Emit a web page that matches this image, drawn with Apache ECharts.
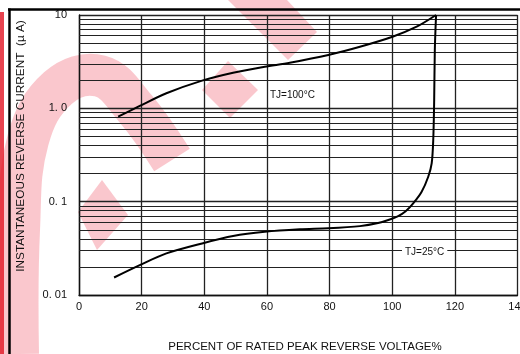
<!DOCTYPE html>
<html>
<head>
<meta charset="utf-8">
<script src="https://cdn.jsdelivr.net/npm/echarts@6/dist/echarts.min.js"></script>
<style>
html,body{margin:0;padding:0;background:#fff;}
#chart{width:520px;height:354px;}
</style>
</head>
<body>
<div id="chart"></div>
<script>
// ---- data ----
const xTicks = [0, 20, 40, 60, 80, 100, 120, 140];
const yTickLabels = { '10': '10', '1': '1. 0', '0.1': '0. 1', '0.01': '0. 01' };
const minorGridValues = [0.02,0.03,0.04,0.05,0.06,0.07,0.08,0.09,
                         0.2,0.3,0.4,0.5,0.6,0.7,0.8,0.9,
                         2,3,4,5,6,7,8,9];
const tj100X = [12.5, 19.4, 27.9, 39.3, 49.2, 59.3, 67.3, 79.6, 89.7, 100.1, 107.8, 114];
const tj100Y = [0.813, 1.06, 1.45, 1.98, 2.41, 2.79, 3.08, 3.73, 4.57, 5.85, 7.49, 10];
const tj25X = [11.2, 19.4, 27.9, 39.3, 49.2, 59.3, 70.5, 79.6, 89.7, 95.5, 99.0, 101.9, 104.3, 106.7, 109.4, 111.5, 112.6, 113.1, 113.4, 113.6, 114];
const tj25Y = [0.0154, 0.0209, 0.0279, 0.0357, 0.0428, 0.0475, 0.0505, 0.0518, 0.0547, 0.0590, 0.0640, 0.0701, 0.0790, 0.0959, 0.1277, 0.185, 0.257, 0.457, 1.23, 4.2, 10];
const xTitle = 'PERCENT OF RATED PEAK REVERSE VOLTAGE%';
const yTitle = 'INSTANTANEOUS REVERSE CURRENT  (µ A)';
const label100 = 'TJ=100°C';
const label25 = 'TJ=25°C';

const zip = (xs, ys) => xs.map((x, i) => [x, ys[i]]);
const FONT = 'Liberation Sans';
const INK = '#111';
const GRID = '#222';
const WM = 'rgba(238,70,90,0.30)';

const chart = echarts.init(document.getElementById('chart'), null, { renderer: 'canvas' });
chart.setOption({
  animation: false,
  backgroundColor: '#fff',
  grid: { left: 79, right: 2.5, top: 15, bottom: 59, containLabel: false, outerBoundsMode: 'none' },
  xAxis: {
    type: 'value', min: xTicks[0], max: xTicks[xTicks.length - 1], interval: 20,
    axisLine: { show: true, lineStyle: { color: INK, width: 1.4 } },
    axisTick: { show: false },
    axisLabel: { color: INK, fontFamily: FONT, fontSize: 11, margin: 6, hideOverlap: false },
    splitLine: { show: true, lineStyle: { color: GRID, width: 1.3 } }
  },
  yAxis: {
    type: 'log', logBase: 10, min: 0.01, max: 10,
    axisLine: { show: true, lineStyle: { color: INK, width: 1.4 } },
    axisTick: { show: false },
    axisLabel: {
      color: INK, fontFamily: FONT, fontSize: 11, margin: 12,
      formatter: v => yTickLabels[String(+v.toPrecision(3))] || String(v)
    },
    splitLine: { show: true, lineStyle: { color: GRID, width: 1.3 } }
  },
  series: [
    {
      type: 'line', name: 'minor', data: [], silent: true, z: 1,
      markLine: {
        silent: true, symbol: 'none', animation: false,
        label: { show: false },
        lineStyle: { color: GRID, width: 1.1, type: 'solid' },
        data: minorGridValues.map(v => ({ yAxis: v }))
      }
    },
    {
      type: 'line', name: label100, data: zip(tj100X, tj100Y),
      showSymbol: false, smooth: 0.3, z: 6,
      lineStyle: { color: '#000', width: 2 }
    },
    {
      type: 'line', name: label25, data: zip(tj25X, tj25Y),
      showSymbol: false, smooth: 0.3, z: 6,
      lineStyle: { color: '#000', width: 2 }
    }
  ],
  graphic: [
    // watermark (semi-transparent, behind the chart)
    { type: 'polyline', z: -1, silent: true,
      shape: { points: [[18,354],[19,230],[28,140],[58,88],[100,76],[135,108],[172,160]], smooth: 0.4 },
      style: { stroke: WM, lineWidth: 42, fill: null, lineCap: 'butt' } },
    { type: 'polygon', z: -1, silent: true,
      shape: { points: [[102,180],[128,215],[97,250],[78,212]] }, style: { fill: WM } },
    { type: 'polygon', z: -1, silent: true,
      shape: { points: [[228,61],[258,90],[230,118],[202,90]] }, style: { fill: WM } },
    { type: 'polygon', z: -1, silent: true,
      shape: { points: [[228,0],[287,0],[317,32],[288,60]] }, style: { fill: WM } },
    { type: 'rect', z: -1, silent: true,
      shape: { x: 0, y: 12, width: 4, height: 342 }, style: { fill: 'rgba(225,20,35,0.8)' } },
    // frame lines
    { type: 'line', z: 20, silent: true, shape: { x1: 8, y1: 9.5, x2: 520, y2: 9.5 }, style: { stroke: '#000', lineWidth: 2.5 } },
    { type: 'line', z: 20, silent: true, shape: { x1: 9.5, y1: 8.5, x2: 9.5, y2: 354 }, style: { stroke: '#000', lineWidth: 2.5 } },
    // axis titles
    { type: 'text', z: 20, silent: true, x: 21, y: 146, rotation: Math.PI / 2,
      style: { text: yTitle, font: '11.8px "' + FONT + '"', fill: INK, align: 'center', verticalAlign: 'middle' } },
    { type: 'text', z: 20, silent: true, x: 305, y: 347,
      style: { text: xTitle, font: '11.5px "' + FONT + '"', fill: INK, align: 'center', verticalAlign: 'middle' } },
    // curve labels
    { type: 'text', z: 20, silent: true, x: 270, y: 95,
      style: { text: label100, font: '10px "' + FONT + '"', fill: INK, align: 'left', verticalAlign: 'middle' } },
    { type: 'text', z: 20, silent: true, x: 402, y: 252,
      style: { text: label25, font: '10px "' + FONT + '"', fill: INK, align: 'left', verticalAlign: 'middle',
               backgroundColor: '#fff', padding: [2, 3] } }
  ]
});
</script>
</body>
</html>
